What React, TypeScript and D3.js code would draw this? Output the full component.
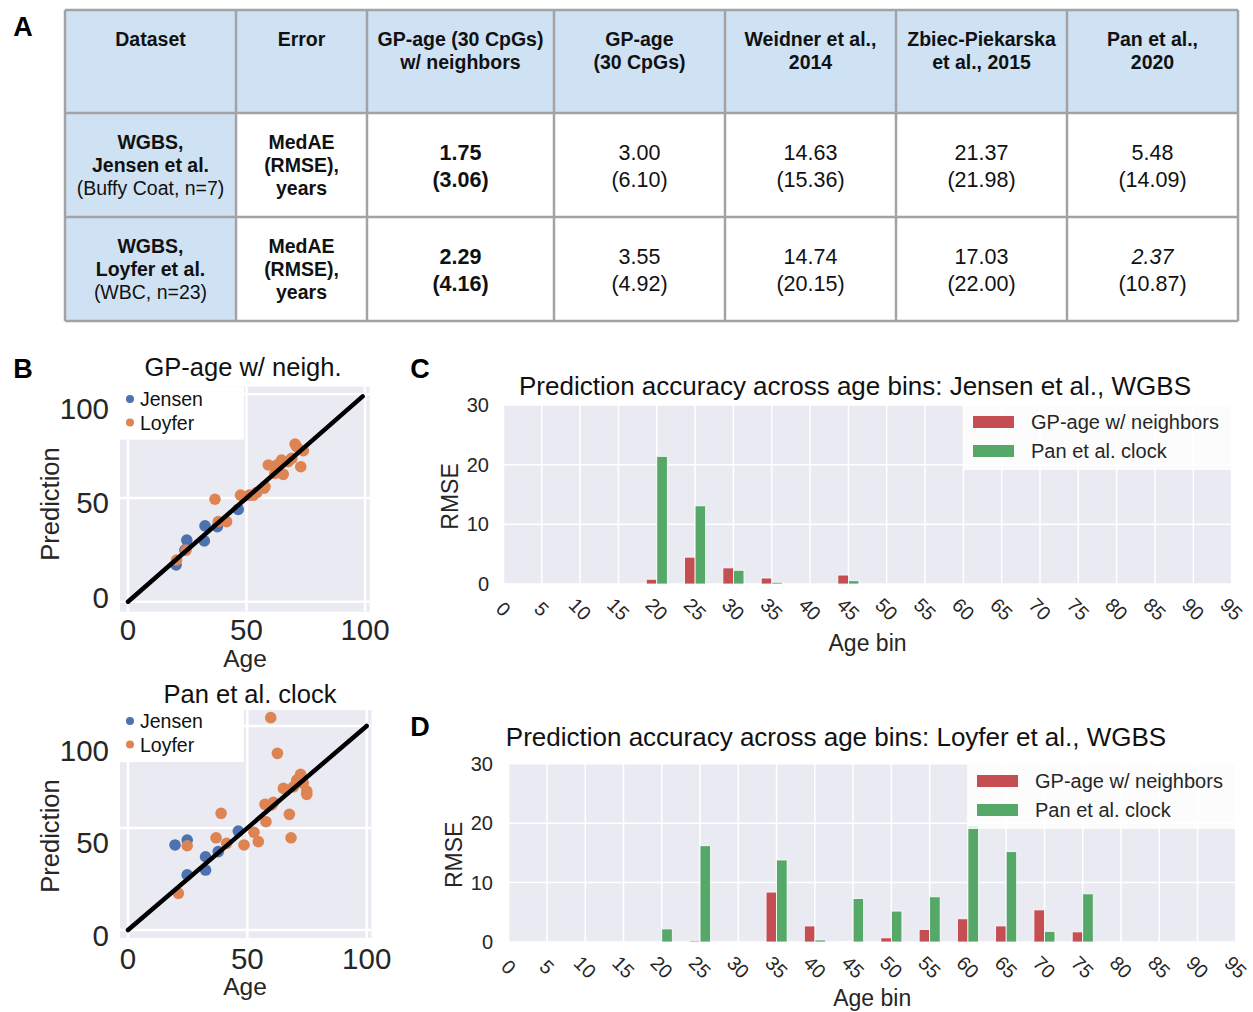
import React, { useEffect, useRef } from "react";
import * as d3 from "d3";

// ---------- panel A: table ----------
const tableHeaders = [
  ["Dataset"],
  ["Error"],
  ["GP-age (30 CpGs)", "w/ neighbors"],
  ["GP-age", "(30 CpGs)"],
  ["Weidner et al.,", "2014"],
  ["Zbiec-Piekarska", "et al., 2015"],
  ["Pan et al.,", "2020"],
];
const datasetLabels = [
  ["WGBS,", "Jensen et al.", "(Buffy Coat, n=7)"],
  ["WGBS,", "Loyfer et al.", "(WBC, n=23)"],
];
const errorLabel = ["MedAE", "(RMSE),", "years"];
const medaeValues = [
  [1.75, 3.0, 14.63, 21.37, 5.48],
  [2.29, 3.55, 14.74, 17.03, 2.37],
];
const rmseValues = [
  [3.06, 6.1, 15.36, 21.98, 14.09],
  [4.16, 4.92, 20.15, 22.0, 10.87],
];

// ---------- panel B: scatter (age, prediction) ----------
const jensenGP = [
  [20.3, 17.7], [24.8, 29.7], [32.2, 29.3], [32.5, 36.6], [37.7, 36.2], [46.5, 44.5], [24, 24.9],
];
const loyferGP = [
  [20.5, 20.1], [24.5, 24.9], [36.7, 49.4], [38.1, 38.6], [41.6, 38.6], [47.5, 51.4], [51.2, 51.4],
  [54.3, 52.6], [57.4, 54.7], [59.2, 65.9], [62, 61.9], [64.8, 68.3], [65.5, 61.4], [70.5, 76],
  [74, 72.8], [72.9, 65.1], [69.1, 69.1], [71.2, 74.7], [62.7, 65.9], [52.9, 51.4], [48.6, 50.6],
  [67.6, 67.5], [57.8, 55.5],
];
const jensenPanPts = [
  [19.7, 41.7], [24.8, 44.1], [24.8, 27], [32.5, 35.9], [32.5, 29.4], [37.8, 38.4], [46.2, 48.5],
];
const loyferPanPts = [
  [21.1, 18], [24.8, 41.3], [36.9, 45.2], [39, 57.2], [41.3, 42.5], [48.6, 41.7], [52.8, 47.9],
  [54.6, 43.3], [57.4, 61.6], [57.8, 53.1], [60.9, 62.6], [65.1, 69.4], [67.6, 56.7], [68.3, 45.2],
  [72.3, 76.3], [73.4, 71.9], [74.9, 66.5], [59.8, 104.1], [62.6, 86.6], [70.7, 73.5], [60.2, 61.3],
  [69.3, 70.2], [74.9, 68.1],
];
const scatterTicks = [0, 50, 100];

// ---------- panels C, D: RMSE per age bin ----------
const ageBins = [0, 5, 10, 15, 20, 25, 30, 35, 40, 45, 50, 55, 60, 65, 70, 75, 80, 85, 90, 95];
const jensenBinsGP = [0, 0, 0, 0, 0.8, 4.5, 2.7, 1.0, 0, 1.5, 0, 0, 0, 0, 0, 0, 0, 0, 0, 0];
const jensenBinsPan = [0, 0, 0, 0, 21.4, 13.1, 2.3, 0.3, 0, 0.55, 0, 0, 0, 0, 0, 0, 0, 0, 0, 0];
const loyferBinsGP = [0, 0, 0, 0, 0, 0.2, 0, 8.4, 2.7, 0.1, 0.7, 2.1, 3.9, 2.7, 5.4, 1.7, 0, 0, 0, 0];
const loyferBinsPan = [0, 0, 0, 0, 2.2, 16.2, 0, 13.8, 0.35, 7.3, 5.2, 7.6, 19.6, 15.2, 1.8, 8.1, 0, 0, 0, 0];
const rmseTicks = [0, 10, 20, 30];
const seriesNames = ["GP-age w/ neighbors", "Pan et al. clock"];

const FONT = "'Liberation Sans', Arial, Helvetica, sans-serif";
const BG = "#EAEAF2";
const BLUE = "#4C72B0";
const ORANGE = "#DD8452";
const RED = "#C44E52";
const GREEN = "#55A868";
const INK = "#262626";

function drawTable(svg) {
  const colX = [65, 236, 367, 554, 725, 896, 1067, 1238];
  const rowY = [10, 113, 217, 321];
  const g = svg.append("g").attr("font-family", FONT).attr("fill", "#111");
  const cx = (i) => (colX[i] + colX[i + 1]) / 2;

  // header row + first column backgrounds
  g.append("rect")
    .attr("x", colX[0]).attr("y", rowY[0])
    .attr("width", colX[7] - colX[0]).attr("height", rowY[1] - rowY[0])
    .attr("fill", "#CFE2F3");
  g.append("rect")
    .attr("x", colX[0]).attr("y", rowY[1])
    .attr("width", colX[1] - colX[0]).attr("height", rowY[3] - rowY[1])
    .attr("fill", "#CFE2F3");

  tableHeaders.forEach((lines, i) => {
    lines.forEach((t, j) => {
      g.append("text")
        .attr("x", cx(i)).attr("y", 39 + j * 23)
        .attr("text-anchor", "middle").attr("dominant-baseline", "central")
        .attr("font-size", 19.5).attr("font-weight", "bold")
        .text(t);
    });
  });

  datasetLabels.forEach((lines, r) => {
    const top = rowY[r + 1];
    lines.forEach((t, j) => {
      g.append("text")
        .attr("x", cx(0)).attr("y", top + 29 + j * 23)
        .attr("text-anchor", "middle").attr("dominant-baseline", "central")
        .attr("font-size", 19.5).attr("font-weight", j < 2 ? "bold" : "normal")
        .text(t);
    });
    errorLabel.forEach((t, j) => {
      g.append("text")
        .attr("x", cx(1)).attr("y", top + 29 + j * 23)
        .attr("text-anchor", "middle").attr("dominant-baseline", "central")
        .attr("font-size", 19.5).attr("font-weight", "bold")
        .text(t);
    });
    medaeValues[r].forEach((v, k) => {
      const bold = k === 0 ? "bold" : "normal";
      g.append("text")
        .attr("x", cx(k + 2)).attr("y", top + 40)
        .attr("text-anchor", "middle").attr("dominant-baseline", "central")
        .attr("font-size", 21.5).attr("font-weight", bold)
        .attr("font-style", r === 1 && k === 4 ? "italic" : "normal")
        .text(d3.format(".2f")(v));
      g.append("text")
        .attr("x", cx(k + 2)).attr("y", top + 67)
        .attr("text-anchor", "middle").attr("dominant-baseline", "central")
        .attr("font-size", 21.5).attr("font-weight", bold)
        .text("(" + d3.format(".2f")(rmseValues[r][k]) + ")");
    });
  });

  // borders
  const lines = g.append("g").attr("stroke", "#A3A3A3").attr("stroke-width", 2.5);
  colX.forEach((x) => {
    lines.append("line").attr("x1", x).attr("x2", x).attr("y1", rowY[0]).attr("y2", rowY[3]);
  });
  rowY.forEach((y) => {
    lines.append("line").attr("x1", colX[0]).attr("x2", colX[7]).attr("y1", y).attr("y2", y);
  });
}

function drawScatter(svg, cfg) {
  const x = d3.scaleLinear().domain([0, 100]).range(cfg.xRange);
  const y = d3.scaleLinear().domain([0, 100]).range(cfg.yRange);
  // tick labels sit slightly off the grid in the original figure
  const yLab = d3.scaleLinear().domain([0, 100]).range(cfg.yLabelRange);
  const g = svg.append("g").attr("font-family", FONT);

  g.append("rect")
    .attr("x", x(-3.4)).attr("y", y(cfg.yMax))
    .attr("width", x(102) - x(-3.4)).attr("height", y(cfg.yMin) - y(cfg.yMax))
    .attr("fill", BG);

  scatterTicks.forEach((t) => {
    g.append("line")
      .attr("x1", x(t)).attr("x2", x(t)).attr("y1", y(cfg.yMax)).attr("y2", y(cfg.yMin))
      .attr("stroke", "#fff").attr("stroke-width", 2.5);
    g.append("line")
      .attr("x1", x(-3.4)).attr("x2", x(102)).attr("y1", y(t)).attr("y2", y(t))
      .attr("stroke", "#fff").attr("stroke-width", 2.5);
    g.append("text")
      .attr("x", x(t)).attr("y", cfg.xTickY)
      .attr("text-anchor", "middle").attr("dominant-baseline", "central")
      .attr("font-size", 29.5).attr("fill", INK)
      .text(t);
    g.append("text")
      .attr("x", 109).attr("y", yLab(t))
      .attr("text-anchor", "end").attr("dominant-baseline", "central")
      .attr("font-size", 29.5).attr("fill", INK)
      .text(t);
  });

  // legend box (white, upper left)
  g.append("rect")
    .attr("x", x(-3.4)).attr("y", y(cfg.yMax))
    .attr("width", 124).attr("height", cfg.legendH)
    .attr("fill", "#fff");
  [["Jensen", BLUE], ["Loyfer", ORANGE]].forEach(([name, c], i) => {
    const ly = cfg.legendY + i * 23.5;
    g.append("circle").attr("cx", 130).attr("cy", ly).attr("r", 4).attr("fill", c);
    g.append("text")
      .attr("x", 140).attr("y", ly)
      .attr("dominant-baseline", "central")
      .attr("font-size", 19.5).attr("fill", "#111")
      .text(name);
  });

  g.append("g").selectAll("circle").data(cfg.jensen).join("circle")
    .attr("cx", (d) => x(d[0])).attr("cy", (d) => y(d[1]))
    .attr("r", 5.8).attr("fill", BLUE);
  g.append("g").selectAll("circle").data(cfg.loyfer).join("circle")
    .attr("cx", (d) => x(d[0])).attr("cy", (d) => y(d[1]))
    .attr("r", 5.8).attr("fill", ORANGE);

  g.append("path")
    .datum([[0, 0], [cfg.lineEnd, cfg.lineEnd]])
    .attr("d", d3.line().x((d) => x(d[0])).y((d) => y(d[1])))
    .attr("stroke", "#000").attr("stroke-width", 4.5).attr("stroke-linecap", "round");

  g.append("text")
    .attr("x", cfg.titleX).attr("y", cfg.titleY)
    .attr("text-anchor", "middle").attr("dominant-baseline", "central")
    .attr("font-size", 25.5).attr("fill", "#111")
    .text(cfg.title);
  g.append("text")
    .attr("x", 245).attr("y", cfg.ageY)
    .attr("text-anchor", "middle").attr("dominant-baseline", "central")
    .attr("font-size", 24.5).attr("fill", INK)
    .text("Age");
  g.append("text")
    .attr("transform", `translate(50,${cfg.predY}) rotate(-90)`)
    .attr("text-anchor", "middle").attr("dominant-baseline", "central")
    .attr("font-size", 25.5).attr("fill", INK)
    .text("Prediction");
}

function drawBars(svg, cfg) {
  const x = d3.scaleLinear().domain([0, 95]).range(cfg.xRange);
  const y = d3.scaleLinear().domain([0, 30]).range(cfg.yRange);
  const bw = (x(5) - x(0)) * 0.275;
  const g = svg.append("g").attr("font-family", FONT);

  g.append("rect")
    .attr("x", x(0)).attr("y", y(30))
    .attr("width", x(95) - x(0)).attr("height", y(0) - y(30))
    .attr("fill", BG);
  ageBins.forEach((b) => {
    g.append("line")
      .attr("x1", x(b)).attr("x2", x(b)).attr("y1", y(0)).attr("y2", y(30))
      .attr("stroke", "#fff").attr("stroke-width", 1.5);
    g.append("text")
      .attr("transform", `translate(${x(b)},${y(0) + 25}) rotate(45)`)
      .attr("text-anchor", "middle").attr("dominant-baseline", "central")
      .attr("font-size", 19.5).attr("fill", INK)
      .text(b);
  });
  rmseTicks.forEach((t) => {
    g.append("line")
      .attr("x1", x(0)).attr("x2", x(95)).attr("y1", y(t)).attr("y2", y(t))
      .attr("stroke", "#fff").attr("stroke-width", 1.5);
    g.append("text")
      .attr("x", cfg.yTickX).attr("y", y(t))
      .attr("text-anchor", "end").attr("dominant-baseline", "central")
      .attr("font-size", 20).attr("fill", INK)
      .text(t);
  });

  const series = [
    { vals: cfg.gp, color: RED, off: -bw },
    { vals: cfg.pan, color: GREEN, off: 0 },
  ];
  series.forEach((s) => {
    g.append("g").selectAll("rect").data(s.vals).join("rect")
      .attr("x", (d, i) => x(ageBins[i]) + s.off)
      .attr("y", (d) => y(d))
      .attr("width", bw)
      .attr("height", (d) => y(0) - y(d))
      .attr("fill", s.color)
      .attr("stroke", "#fff").attr("stroke-width", 0.8);
  });

  // legend
  const lx = cfg.legend[0], ly = cfg.legend[1];
  g.append("rect")
    .attr("x", lx).attr("y", ly).attr("width", x(95) - lx).attr("height", 65)
    .attr("fill", "#fff").attr("fill-opacity", 0.85);
  seriesNames.forEach((name, i) => {
    g.append("rect")
      .attr("x", lx + 9).attr("y", ly + 11 + i * 29)
      .attr("width", 41).attr("height", 12)
      .attr("fill", i === 0 ? RED : GREEN);
    g.append("text")
      .attr("x", lx + 67).attr("y", ly + 17 + i * 29)
      .attr("dominant-baseline", "central")
      .attr("font-size", 20).attr("fill", INK)
      .text(name);
  });

  g.append("text")
    .attr("x", cfg.title[1]).attr("y", cfg.title[2])
    .attr("text-anchor", "middle").attr("dominant-baseline", "central")
    .attr("font-size", 26).attr("fill", "#111")
    .text(cfg.title[0]);
  g.append("text")
    .attr("x", (x(0) + x(95)) / 2).attr("y", cfg.xLabelY)
    .attr("text-anchor", "middle").attr("dominant-baseline", "central")
    .attr("font-size", 23).attr("fill", INK)
    .text("Age bin");
  g.append("text")
    .attr("transform", `translate(${cfg.yLabelX},${(y(0) + y(30)) / 2 + 2}) rotate(-90)`)
    .attr("text-anchor", "middle").attr("dominant-baseline", "central")
    .attr("font-size", 23).attr("fill", INK)
    .text("RMSE");
}

export default function App() {
  const ref = useRef(null);

  useEffect(() => {
    const svg = d3.select(ref.current);
    svg.selectAll("*").remove();

    drawTable(svg);

    drawScatter(svg, {
      title: "GP-age w/ neigh.", titleX: 243, titleY: 367,
      xRange: [128, 365], yRange: [601.7, 394.3], yLabelRange: [597, 408],
      yMin: -4.8, yMax: 103.7, legendH: 53, legendY: 399,
      xTickY: 629, ageY: 658, predY: 504, lineEnd: 99,
      jensen: jensenGP, loyfer: loyferGP,
    });
    drawScatter(svg, {
      title: "Pan et al. clock", titleX: 250, titleY: 694,
      xRange: [128, 366.7], yRange: [930, 726], yLabelRange: [935, 750],
      yMin: -3.9, yMax: 107.8, legendH: 52, legendY: 721,
      xTickY: 958, ageY: 986, predY: 836, lineEnd: 100,
      jensen: jensenPanPts, loyfer: loyferPanPts,
    });

    drawBars(svg, {
      title: ["Prediction accuracy across age bins: Jensen et al., WGBS", 855, 386],
      xRange: [503.5, 1231.6], yRange: [584, 405],
      gp: jensenBinsGP, pan: jensenBinsPan,
      legend: [964, 405], yTickX: 489, yLabelX: 450, xLabelY: 643,
    });
    drawBars(svg, {
      title: ["Prediction accuracy across age bins: Loyfer et al., WGBS", 836, 737],
      xRange: [508.7, 1235.8], yRange: [942, 763.7],
      gp: loyferBinsGP, pan: loyferBinsPan,
      legend: [968, 764], yTickX: 493, yLabelX: 454, xLabelY: 998,
    });

    // panel letters
    [["A", 23, 27], ["B", 23, 369], ["C", 420, 369], ["D", 420, 727]].forEach(([t, lx, ly]) => {
      svg.append("text")
        .attr("x", lx).attr("y", ly)
        .attr("text-anchor", "middle").attr("dominant-baseline", "central")
        .attr("font-family", FONT).attr("font-size", 27).attr("font-weight", "bold")
        .attr("fill", "#000")
        .text(t);
    });
  }, []);

  return (
    <div style={{ position: "absolute", left: 0, top: 0 }}>
      <svg ref={ref} width={1253} height={1012} style={{ display: "block", background: "#fff" }} />
    </div>
  );
}
